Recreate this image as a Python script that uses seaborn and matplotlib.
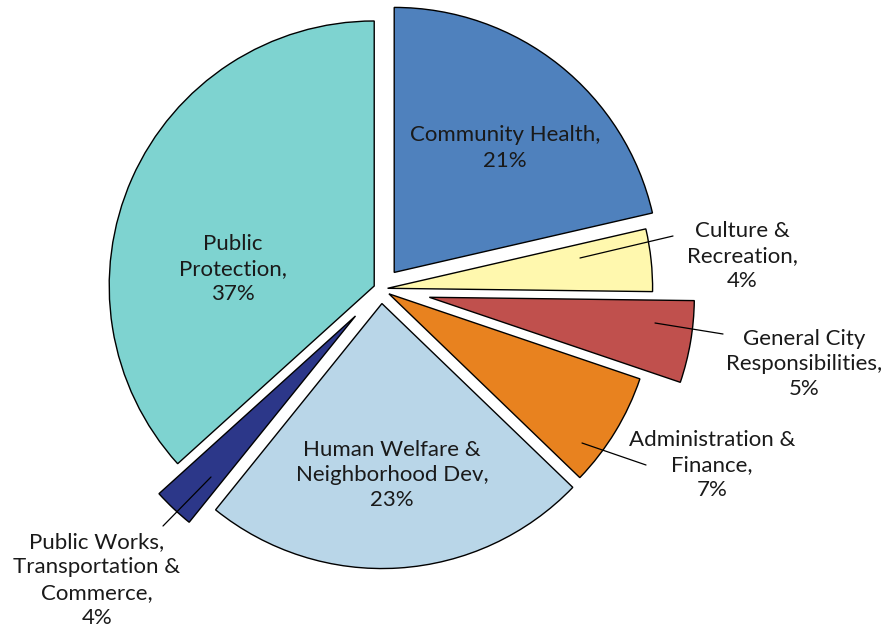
import matplotlib
matplotlib.use("Agg")
import matplotlib.pyplot as plt
import seaborn as sns

# ---- data ----
categories = ["Community Health", "Culture &\nRecreation", "General City\nResponsibilities",
              "Administration &\nFinance", "Human Welfare &\nNeighborhood Dev",
              "Public Works,\nTransportation &\nCommerce", "Public\nProtection"]
shares = [21.4, 3.8, 5.0, 7.0, 23.6, 2.5, 36.7]          # wedge sizes as drawn
pct_labels = ["21%", "4%", "5%", "7%", "23%", "4%", "37%"]  # printed percentages
colors = ["#4F81BD", "#FFF8AE", "#C0504D", "#E8821F", "#B9D6E8", "#2C3789", "#7ED3D0"]
explode = [0.08, 0.025, 0.185, 0.035, 0.055, 0.14, 0.028]

sns.set_theme(style="white")
plt.rcParams['font.family'] = ['Lato', 'DejaVu Sans']

W, H = 893, 630
CX, CY, R = 381, 289, 265  # pixel centre and radius of the pie


def px(x, y):
    return ((x - CX) / R, (CY - y) / R)


fig = plt.figure(figsize=(W / 100, H / 100), dpi=100)
ax = fig.add_axes([0, 0, 1, 1])
ax.pie(shares, colors=colors, explode=explode, startangle=90, counterclock=False,
       radius=1, wedgeprops=dict(edgecolor="black", linewidth=1.0))
ax.set_xlim(-CX / R, (W - CX) / R)
ax.set_ylim(-(H - CY) / R, CY / R)
ax.axis("off")

# label positions (pixel centres) and optional leader lines
label_pos = [(505, 148), (742, 256), (804, 364), (712, 465), (392, 475), (97, 580), (233, 269)]
leaders = [None, ((580, 258), (673, 236)), ((655, 323), (723, 334)),
           ((582, 443), (646, 465)), None, ((211, 477), (163, 526)), None]

for name, pct, pos, ld in zip(categories, pct_labels, label_pos, leaders):
    if ld is not None:
        (x0, y0), (x1, y1) = ld
        p0, p1 = px(x0, y0), px(x1, y1)
        ax.plot([p0[0], p1[0]], [p0[1], p1[1]], color="black", lw=0.9, zorder=5)
    tx, ty = px(*pos)
    ax.text(tx, ty, f"{name},\n{pct}", ha="center", va="center", fontsize=16,
            color="#1a1a1a", linespacing=1.33, zorder=6)

fig.savefig("out.png", dpi=100)
